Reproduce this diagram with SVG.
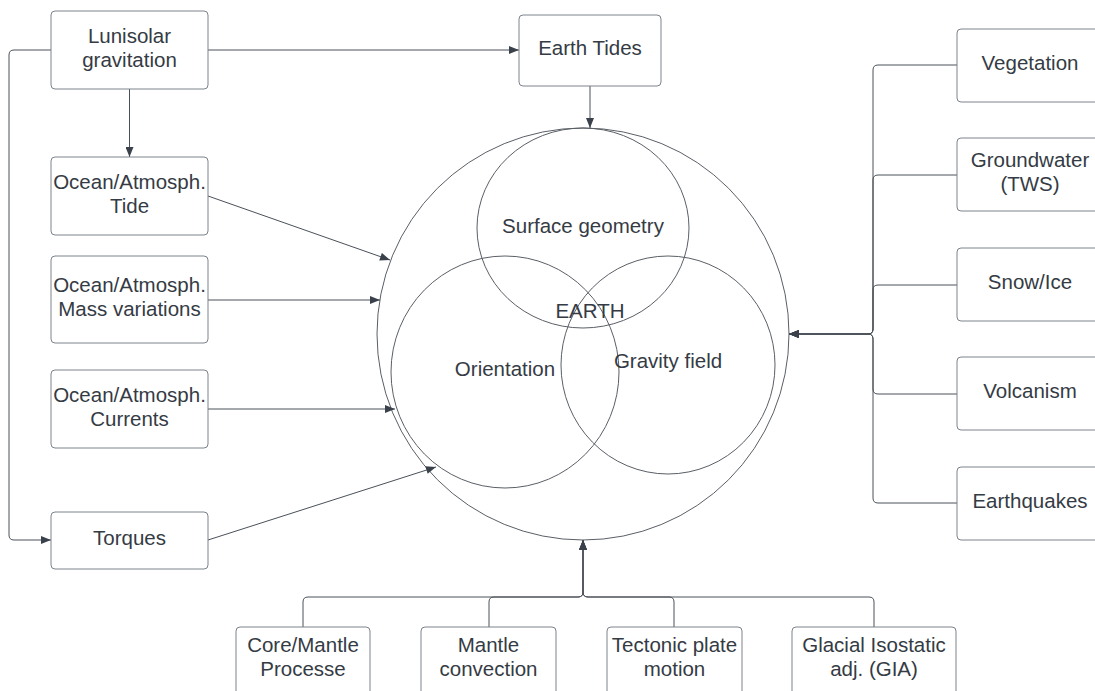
<svg xmlns="http://www.w3.org/2000/svg" width="1095" height="691" viewBox="0 0 1095 691">
<style>
  .box { fill: #ffffff; stroke: #7d828a; stroke-width: 1; }
  .t { font-family: "Liberation Sans", Arial, sans-serif; font-size: 20.5px; fill: #353b44; text-anchor: middle; }
  .c { fill: none; stroke: #4a5059; stroke-width: 1; }
  .ring { fill: none; stroke: #5a5f66; stroke-width: 1; }
</style>
<defs>
  <marker id="ah" viewBox="0 0 10 8" refX="10" refY="4" markerWidth="11" markerHeight="8" orient="auto" markerUnits="userSpaceOnUse">
    <path d="M0,0 L10,4 L0,8 z" fill="#3a414a"/>
  </marker>
</defs>
<rect width="1095" height="691" fill="#ffffff"/>

<g id="earth">
  <circle class="ring" cx="583" cy="334" r="206"/>
  <ellipse class="ring" cx="583" cy="228" rx="106" ry="100"/>
  <ellipse class="ring" cx="505" cy="372" rx="114" ry="116"/>
  <ellipse class="ring" cx="668" cy="365" rx="107" ry="109"/>
  <text class="t" x="583" y="233">Surface geometry</text>
  <text class="t" x="590" y="318">EARTH</text>
  <text class="t" x="505" y="376">Orientation</text>
  <text class="t" x="668" y="368">Gravity field</text>
</g>

<g id="connectors">
  <path class="c" d="M208,50 H519" marker-end="url(#ah)"/>
  <path class="c" d="M129.5,89 V157" marker-end="url(#ah)"/>
  <path class="c" d="M51,50 H14 Q9,50 9,55 V535 Q9,540 14,540 H51" marker-end="url(#ah)"/>
  <path class="c" d="M590,86 V128" marker-end="url(#ah)"/>
  <path class="c" d="M208,196 L390,260" marker-end="url(#ah)"/>
  <path class="c" d="M208,300 H380" marker-end="url(#ah)"/>
  <path class="c" d="M208,409 H395" marker-end="url(#ah)"/>
  <path class="c" d="M208,540 L436,467" marker-end="url(#ah)"/>
  <path class="c" d="M957,65 H878 Q873,65 873,70 V329 Q873,334 868,334 H789" marker-end="url(#ah)"/>
  <path class="c" d="M957,175 H878 Q873,175 873,180 V329 Q873,334 868,334 H789" marker-end="url(#ah)"/>
  <path class="c" d="M957,285 H878 Q873,285 873,290 V329 Q873,334 868,334 H789" marker-end="url(#ah)"/>
  <path class="c" d="M957,394 H878 Q873,394 873,389 V339 Q873,334 868,334 H789" marker-end="url(#ah)"/>
  <path class="c" d="M957,503 H878 Q873,503 873,498 V339 Q873,334 868,334 H789" marker-end="url(#ah)"/>
  <path class="c" d="M303,627 V602 Q303,597 308,597 H578 Q583,597 583,592 V540" marker-end="url(#ah)"/>
  <path class="c" d="M489,627 V602 Q489,597 494,597 H578 Q583,597 583,592 V540" marker-end="url(#ah)"/>
  <path class="c" d="M674,627 V602 Q674,597 669,597 H588 Q583,597 583,592 V540" marker-end="url(#ah)"/>
  <path class="c" d="M874,627 V602 Q874,597 869,597 H588 Q583,597 583,592 V540" marker-end="url(#ah)"/>
</g>

<g id="lunisolar">
  <rect class="box" x="51" y="11" width="157" height="78" rx="4"/>
  <text class="t" x="129.5" y="43">Lunisolar</text>
  <text class="t" x="129.5" y="67">gravitation</text>
</g>
<g id="earth-tides">
  <rect class="box" x="519" y="15" width="142" height="71" rx="4"/>
  <text class="t" x="590" y="55">Earth Tides</text>
</g>
<g id="ocean-tide">
  <rect class="box" x="51" y="157" width="157" height="78" rx="4"/>
  <text class="t" x="129.5" y="189">Ocean/Atmosph.</text>
  <text class="t" x="129.5" y="213">Tide</text>
</g>
<g id="ocean-mass">
  <rect class="box" x="51" y="256" width="157" height="87" rx="4"/>
  <text class="t" x="129.5" y="292">Ocean/Atmosph.</text>
  <text class="t" x="129.5" y="316">Mass variations</text>
</g>
<g id="ocean-currents">
  <rect class="box" x="51" y="370" width="157" height="78" rx="4"/>
  <text class="t" x="129.5" y="402">Ocean/Atmosph.</text>
  <text class="t" x="129.5" y="426">Currents</text>
</g>
<g id="torques">
  <rect class="box" x="51" y="512" width="157" height="57" rx="4"/>
  <text class="t" x="129.5" y="545">Torques</text>
</g>

<g id="vegetation">
  <rect class="box" x="957" y="29" width="146" height="73" rx="4"/>
  <text class="t" x="1030" y="70">Vegetation</text>
</g>
<g id="groundwater">
  <rect class="box" x="957" y="138" width="146" height="73" rx="4"/>
  <text class="t" x="1030" y="167">Groundwater</text>
  <text class="t" x="1030" y="191">(TWS)</text>
</g>
<g id="snow-ice">
  <rect class="box" x="957" y="248" width="146" height="73" rx="4"/>
  <text class="t" x="1030" y="289">Snow/Ice</text>
</g>
<g id="volcanism">
  <rect class="box" x="957" y="357" width="146" height="73" rx="4"/>
  <text class="t" x="1030" y="398">Volcanism</text>
</g>
<g id="earthquakes">
  <rect class="box" x="957" y="467" width="146" height="73" rx="4"/>
  <text class="t" x="1030" y="508">Earthquakes</text>
</g>

<g id="core-mantle">
  <rect class="box" x="236" y="627" width="134" height="80" rx="4"/>
  <text class="t" x="303" y="652">Core/Mantle</text>
  <text class="t" x="303" y="676">Processe</text>
</g>
<g id="mantle-convection">
  <rect class="box" x="421" y="627" width="135" height="80" rx="4"/>
  <text class="t" x="488.5" y="652">Mantle</text>
  <text class="t" x="488.5" y="676">convection</text>
</g>
<g id="tectonic">
  <rect class="box" x="607" y="627" width="135" height="80" rx="4"/>
  <text class="t" x="674.5" y="652">Tectonic plate</text>
  <text class="t" x="674.5" y="676">motion</text>
</g>
<g id="gia">
  <rect class="box" x="792" y="627" width="164" height="80" rx="4"/>
  <text class="t" x="874" y="652">Glacial Isostatic</text>
  <text class="t" x="874" y="676">adj. (GIA)</text>
</g>
</svg>
